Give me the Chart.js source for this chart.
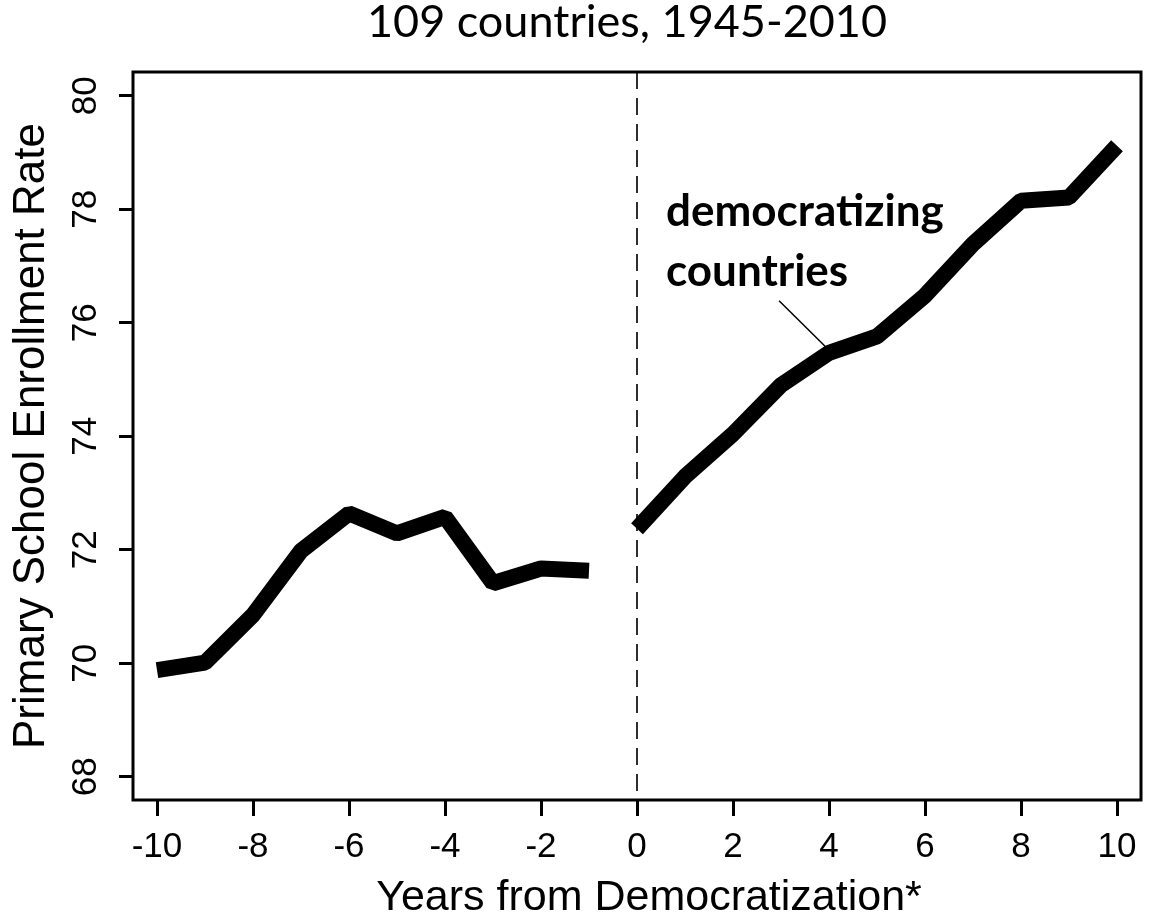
<!DOCTYPE html>
<html>
<head>
<meta charset="utf-8">
<script src="https://cdn.jsdelivr.net/npm/chart.js@4.4.1/dist/chart.umd.min.js"></script>
<style>
  html, body { margin: 0; padding: 0; background: #ffffff; }
  canvas { display: block; }
</style>
</head>
<body>
<canvas id="chart" width="1153" height="921"></canvas>
<script>
// Text
const chartTitle = '109 countries, 1945-2010';
const xAxisTitle = 'Years from Democratization*';
const yAxisTitle = 'Primary School Enrollment Rate';
const seriesNote = ['democratizing', 'countries'];

// Years relative to democratization and mean enrollment rate (%)
const yearsBefore = [-10, -9, -8, -7, -6, -5, -4, -3, -2, -1];
const enrollBefore = [69.88, 70.01, 70.85, 71.98, 72.64, 72.29, 72.58, 71.41, 71.67, 71.63];
const yearsAfter = [0, 1, 2, 3, 4, 5, 6, 7, 8, 9, 10];
const enrollAfter = [72.37, 73.29, 74.04, 74.90, 75.47, 75.76, 76.48, 77.39, 78.15, 78.21, 79.12];

// Axis ticks
const xTicks = [-10, -8, -6, -4, -2, 0, 2, 4, 6, 8, 10];
const yTicks = [68, 70, 72, 74, 76, 78, 80];

// Leader line from the series note to the curve
const leaderX = [2.96, 3.96];
const leaderY = [76.39, 75.55];

const toPoints = (xs, ys) => xs.map((x, i) => ({ x: x, y: ys[i] }));

const AXIS_FONT = "'Liberation Sans', Arial, sans-serif";
const NOTE_FONT = "Lato, 'Open Sans', sans-serif";

const decorations = {
  id: 'decorations',
  beforeDatasetsDraw(chart) {
    const { ctx, chartArea: a, scales: { x } } = chart;
    const x0 = x.getPixelForValue(0);
    ctx.save();
    ctx.strokeStyle = '#2e2e2e';
    ctx.lineWidth = 2;
    ctx.setLineDash([17, 9]);
    ctx.beginPath();
    ctx.moveTo(x0, a.top);
    ctx.lineTo(x0, a.bottom);
    ctx.stroke();
    ctx.restore();
  },
  afterDraw(chart) {
    const { ctx, chartArea: a } = chart;
    ctx.save();
    // plot frame
    ctx.strokeStyle = '#000';
    ctx.lineWidth = 3;
    ctx.strokeRect(a.left, a.top, a.right - a.left, a.bottom - a.top);

    ctx.fillStyle = '#000';
    // chart title
    ctx.font = "45px " + NOTE_FONT;
    ctx.textAlign = 'center';
    ctx.textBaseline = 'alphabetic';
    ctx.fillText(chartTitle, 627, 37);

    // x axis title
    ctx.font = "43px " + AXIS_FONT;
    ctx.fillText(xAxisTitle, 649, 910);

    // series note
    ctx.font = "bold 44px " + NOTE_FONT;
    ctx.textAlign = 'left';
    ctx.fillText(seriesNote[0], 666, 226);
    ctx.fillText(seriesNote[1], 666, 286);
    ctx.restore();
  }
};

const lineStyle = {
  borderColor: '#000',
  borderWidth: 16,
  borderCapStyle: 'butt',
  borderJoinStyle: 'bevel',
  pointRadius: 0,
  tension: 0,
  fill: false
};

new Chart(document.getElementById('chart'), {
  type: 'line',
  data: {
    datasets: [
      Object.assign({ label: 'before', data: toPoints(yearsBefore, enrollBefore) }, lineStyle),
      Object.assign({ label: 'after', data: toPoints(yearsAfter, enrollAfter) }, lineStyle),
      {
        label: 'leader',
        data: toPoints(leaderX, leaderY),
        borderColor: '#000',
        borderWidth: 1.5,
        pointRadius: 0,
        fill: false
      }
    ]
  },
  options: {
    responsive: false,
    animation: false,
    devicePixelRatio: 1,
    layout: { padding: { top: 72, right: 12, left: 0, bottom: 0 } },
    plugins: {
      legend: { display: false },
      tooltip: { enabled: false },
      title: { display: false }
    },
    scales: {
      x: {
        type: 'linear',
        min: -10.5,
        max: 10.5,
        afterBuildTicks: s => { s.ticks = xTicks.map(v => ({ value: v })); },
        afterFit: s => { s.height = 121; },
        border: { display: false },
        grid: { drawOnChartArea: false, drawTicks: true, tickLength: 16, tickWidth: 3, tickColor: '#000' },
        ticks: {
          autoSkip: false,
          maxRotation: 0,
          padding: 10,
          color: '#000',
          font: { family: AXIS_FONT, size: 35 },
          callback: v => String(v)
        }
      },
      y: {
        type: 'linear',
        min: 67.59,
        max: 80.42,
        afterBuildTicks: s => { s.ticks = yTicks.map(v => ({ value: v })); },
        afterFit: s => { s.width = 133; },
        border: { display: false },
        grid: { drawOnChartArea: false, drawTicks: true, tickLength: 14, tickWidth: 3, tickColor: '#000' },
        ticks: {
          autoSkip: false,
          minRotation: 90,
          maxRotation: 90,
          crossAlign: 'center',
          padding: 13,
          color: '#000',
          font: { family: AXIS_FONT, size: 35 },
          callback: v => String(v)
        },
        title: {
          display: true,
          text: yAxisTitle,
          color: '#000',
          font: { family: AXIS_FONT, size: 44 },
          padding: { top: 5, bottom: 0 }
        }
      }
    }
  },
  plugins: [decorations]
});
</script>
</body>
</html>
